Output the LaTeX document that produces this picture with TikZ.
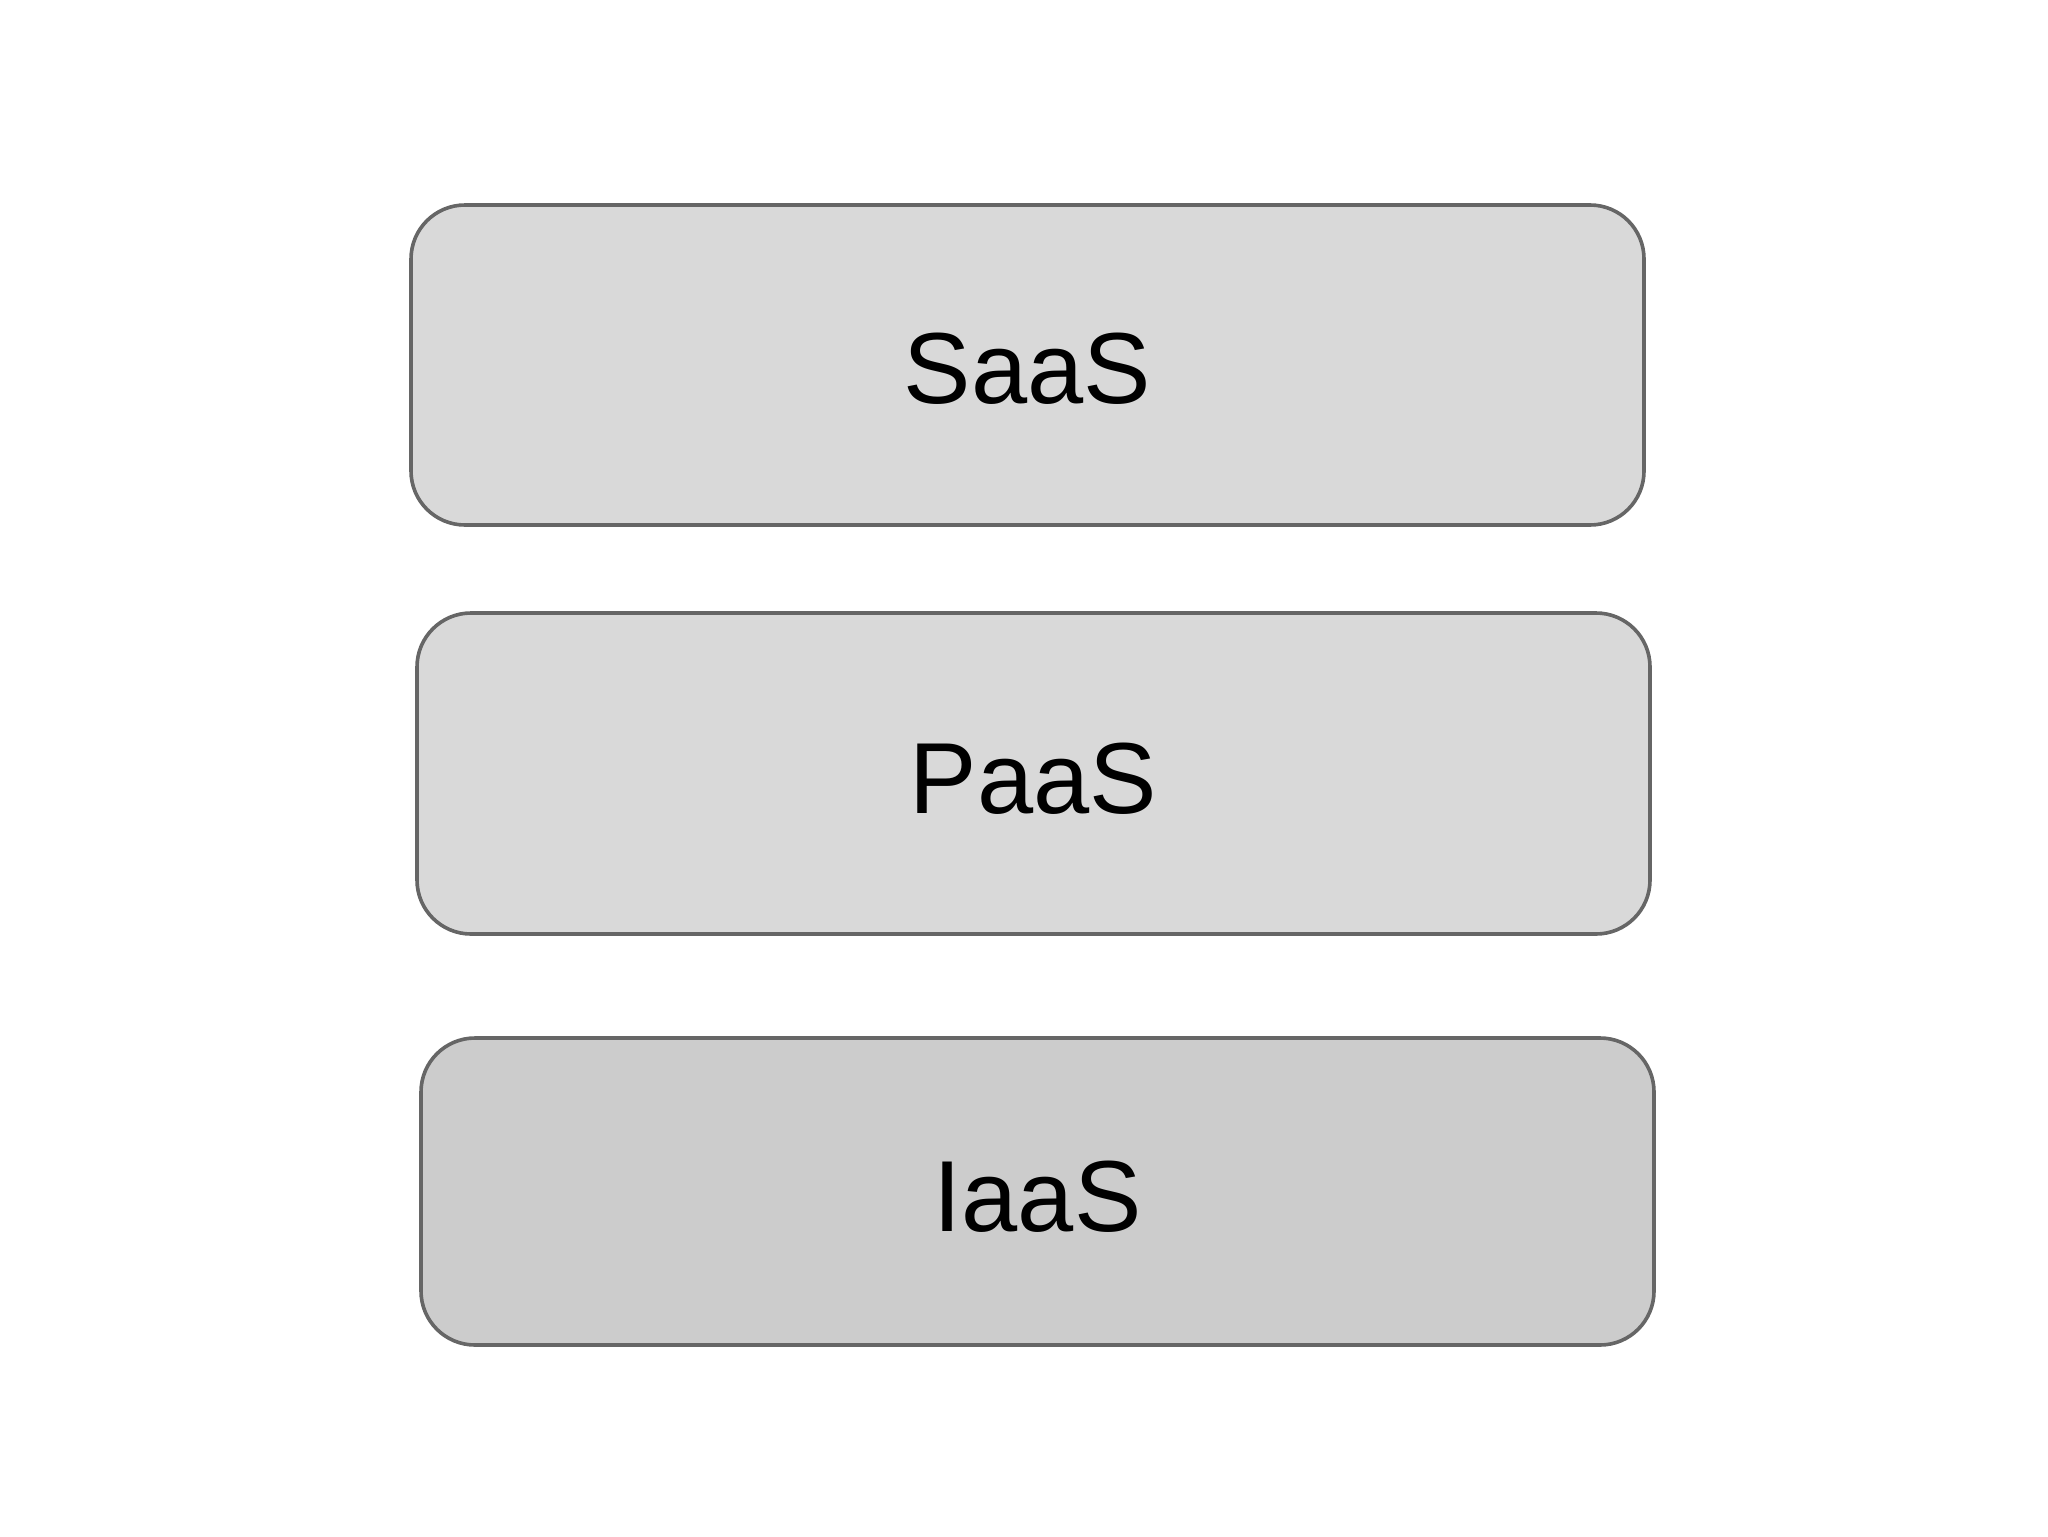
\documentclass[tikz,border=0pt]{standalone}
\usepackage{fontspec}
\setmainfont{Liberation Sans}
\definecolor{boxfill}{HTML}{D9D9D9}
\definecolor{boxfilldark}{HTML}{CCCCCC}
\definecolor{boxline}{HTML}{666666}
\begin{document}
\begin{tikzpicture}[x=0.5pt,y=-0.5pt,
  layer/.style={draw=boxline, line width=1.8pt, rounded corners=27pt, inner sep=0pt,
    text height=40pt, text depth=0pt,
    font=\fontsize{50.5pt}{60pt}\selectfont, text=black}]
\useasboundingbox (0,0) rectangle (2048,1536);
\node[layer, fill=boxfill, minimum width=616.5pt, minimum height=160pt, text height=38pt] (saas) at (1027.5,365) {SaaS};
\node[layer, fill=boxfill, minimum width=616.5pt, minimum height=160.5pt] (paas) at (1033.5,773.5) {PaaS};
\node[layer, fill=boxfilldark, minimum width=616.5pt, minimum height=153.5pt] (iaas) at (1037.5,1191.5) {IaaS};
\end{tikzpicture}
\end{document}
